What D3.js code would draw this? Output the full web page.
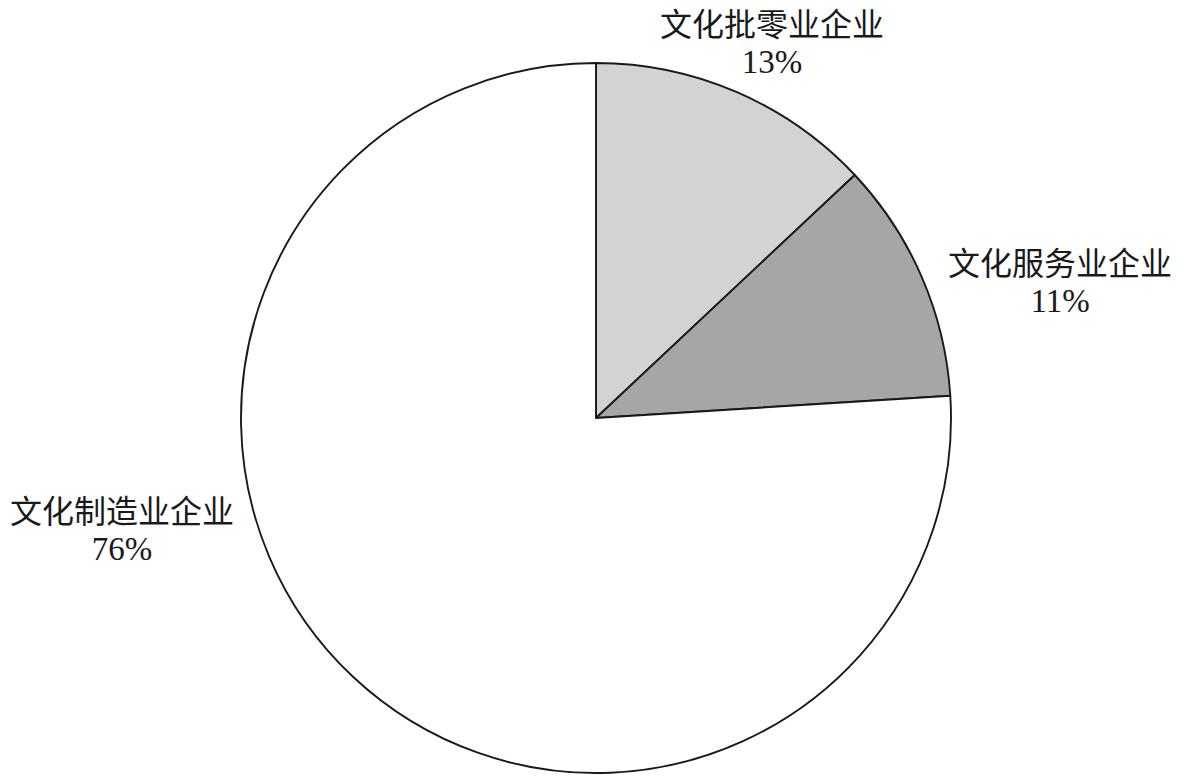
<!DOCTYPE html>
<html>
<head>
<meta charset="utf-8">
<script src="https://cdn.jsdelivr.net/npm/d3@7"></script>
<style>
  html, body { margin: 0; padding: 0; background: #fff; }
</style>
</head>
<body>
<div id="chart"></div>
<script>
// Anteile der Unternehmensgruppen (im Uhrzeigersinn ab 12 Uhr)
const categories = ["文化批零业企业", "文化服务业企业", "文化制造业企业"];
const shares     = [13, 11, 76];
const pctLabels  = ["13%", "11%", "76%"];

const W = 1183, H = 782;
const cx = 596, cy = 418, R = 355;

const fills = ["#d3d3d3", "#a6a6a6", "#ffffff"];
// Label-Mittelpunkte relativ zum Kreismittelpunkt (Layout, keine Daten)
const labelPos = [
  { dx: 176, dy: -380 },
  { dx: 464, dy: -141 },
  { dx: -474, dy: 107 }
];

const svg = d3.select("#chart").append("svg")
  .attr("width", W).attr("height", H);

const pie = d3.pie().sort(null).value(d => d)(shares);
const arc = d3.arc().innerRadius(0).outerRadius(R);

const g = svg.append("g").attr("transform", `translate(${cx},${cy})`);

g.selectAll("path").data(pie).enter().append("path")
  .attr("d", arc)
  .attr("fill", (d, i) => fills[i])
  .attr("stroke", "#1a1a1a")
  .attr("stroke-width", 1.9)
  .attr("stroke-linejoin", "round");

// Beschriftungen
const lbl = g.selectAll("g.lbl").data(pie).enter().append("g")
  .attr("class", "lbl")
  .attr("transform", (d, i) => `translate(${labelPos[i].dx},${labelPos[i].dy})`);

lbl.append("text")
  .attr("text-anchor", "middle")
  .attr("y", -2)
  .style("font-family", "'Noto Sans CJK SC', sans-serif")
  .style("font-size", "32px")
  .style("fill", "#1a1a1a")
  .text((d, i) => categories[i]);

lbl.append("text")
  .attr("text-anchor", "middle")
  .attr("y", 35)
  .style("font-family", "'Liberation Serif', serif")
  .style("font-size", "33px")
  .style("fill", "#1a1a1a")
  .text((d, i) => pctLabels[i]);
</script>
</body>
</html>
